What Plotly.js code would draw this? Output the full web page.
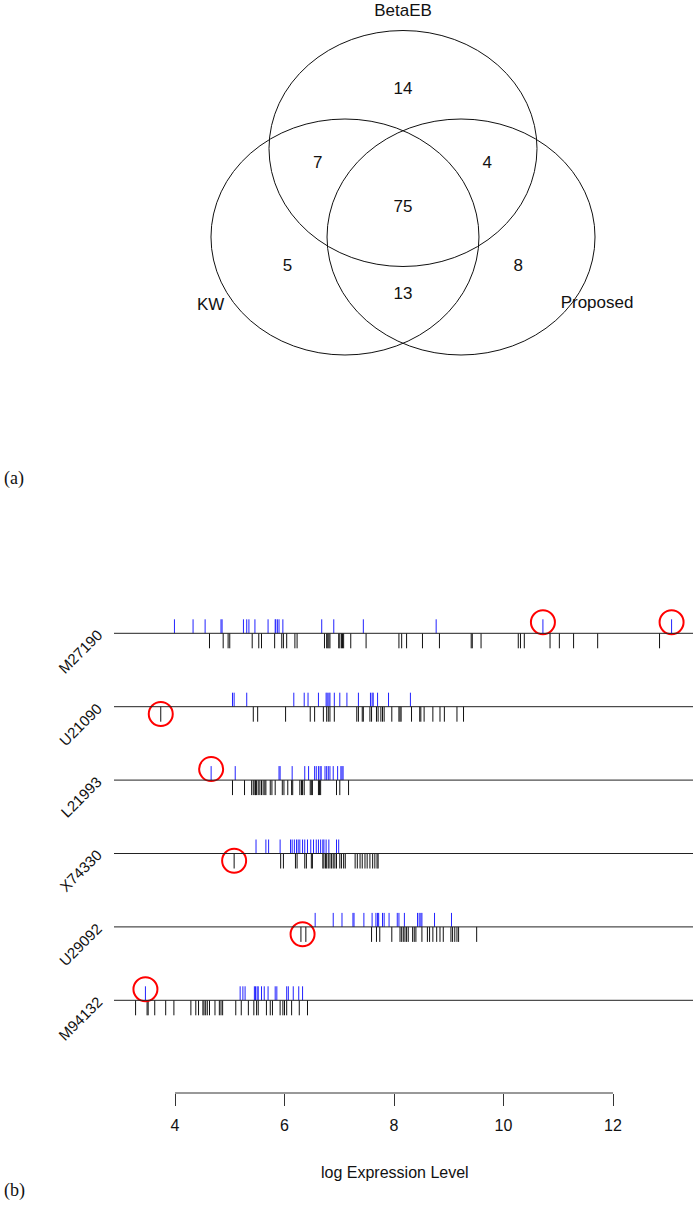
<!DOCTYPE html>
<html>
<head>
<meta charset="utf-8">
<script src="https://cdn.plot.ly/plotly-3.0.1.min.js"></script>
<style>html,body{margin:0;padding:0;background:#fff;}#chart{width:696px;height:1210px;}</style>
</head>
<body>
<div id="chart"></div>
<script>
// ---------------- DATA ----------------
const vennSets = ['BetaEB', 'KW', 'Proposed'];
const vennRegions = ['BetaEB only', 'BetaEB & KW', 'BetaEB & Proposed', 'All three', 'KW only', 'Proposed only', 'KW & Proposed'];
const vennCounts = [14, 7, 4, 75, 5, 8, 13];

const genes = ['M27190', 'U21090', 'L21993', 'X74330', 'U29092', 'M94132'];
const xTicks = [4, 6, 8, 10, 12];
const xLabel = 'log Expression Level';

const blue_M27190 = [3.99, 4.33, 4.55, 4.84, 4.86, 5.25, 5.31, 5.35, 5.46, 5.70, 5.83, 5.84, 5.87, 5.90, 5.97, 6.68, 6.90, 7.44, 8.77, 10.72, 13.07];
const black_M27190 = [4.63, 4.88, 4.97, 5.00, 5.41, 5.53, 5.58, 5.82, 5.95, 5.98, 6.04, 6.19, 6.23, 6.73, 6.77, 6.79, 6.81, 6.83, 6.99, 7.01, 7.04, 7.06, 7.08, 7.21, 7.49, 8.09, 8.14, 8.23, 8.52, 8.83, 9.41, 9.43, 9.59, 10.27, 10.31, 10.38, 10.85, 11.02, 11.28, 11.72, 12.85];
const blue_U21090 = [5.05, 5.08, 5.31, 6.17, 6.36, 6.43, 6.62, 6.76, 6.78, 6.81, 6.83, 6.91, 7.01, 7.14, 7.35, 7.57, 7.60, 7.62, 7.70, 7.90, 8.30];
const black_U21090 = [3.74, 5.43, 5.51, 6.02, 6.47, 6.55, 6.71, 6.77, 6.80, 6.83, 6.91, 7.32, 7.35, 7.42, 7.44, 7.56, 7.59, 7.68, 7.71, 7.76, 7.79, 7.82, 7.96, 8.09, 8.11, 8.13, 8.32, 8.47, 8.49, 8.55, 8.71, 8.84, 8.92, 9.15, 9.27];
const blue_L21993 = [4.66, 5.10, 5.90, 5.92, 6.14, 6.37, 6.44, 6.55, 6.58, 6.62, 6.65, 6.67, 6.74, 6.77, 6.80, 6.83, 6.89, 6.97, 7.03, 7.05, 7.07];
const black_L21993 = [5.05, 5.27, 5.40, 5.43, 5.46, 5.47, 5.49, 5.52, 5.55, 5.58, 5.61, 5.64, 5.66, 5.74, 5.77, 5.83, 5.96, 5.99, 6.06, 6.13, 6.15, 6.28, 6.31, 6.33, 6.36, 6.47, 6.49, 6.51, 6.62, 6.64, 6.66, 6.95, 7.01, 7.17];
const blue_X74330 = [5.48, 5.66, 5.71, 5.92, 6.11, 6.14, 6.18, 6.22, 6.25, 6.28, 6.33, 6.37, 6.42, 6.48, 6.53, 6.58, 6.62, 6.66, 6.70, 6.72, 6.76, 6.81, 6.95, 6.99];
const black_X74330 = [5.08, 5.93, 5.98, 6.20, 6.23, 6.37, 6.40, 6.49, 6.51, 6.70, 6.72, 6.75, 6.77, 6.80, 6.83, 6.86, 6.89, 6.92, 6.95, 7.01, 7.04, 7.08, 7.11, 7.29, 7.33, 7.38, 7.42, 7.47, 7.51, 7.56, 7.61, 7.65, 7.69, 7.71];
const blue_U29092 = [6.56, 6.89, 7.05, 7.25, 7.27, 7.45, 7.60, 7.67, 7.70, 7.72, 7.79, 7.82, 7.91, 8.06, 8.09, 8.19, 8.43, 8.46, 8.49, 8.51, 8.74, 9.05];
const black_U29092 = [6.30, 6.39, 7.59, 7.68, 7.74, 7.96, 8.11, 8.14, 8.17, 8.20, 8.23, 8.26, 8.34, 8.37, 8.40, 8.51, 8.61, 8.65, 8.71, 8.78, 8.84, 8.90, 9.04, 9.07, 9.11, 9.15, 9.18, 9.51];
const blue_M94132 = [3.46, 5.19, 5.24, 5.28, 5.45, 5.47, 5.50, 5.52, 5.58, 5.63, 5.70, 5.83, 5.86, 6.04, 6.07, 6.16, 6.26, 6.33];
const black_M94132 = [3.28, 3.49, 3.51, 3.63, 3.83, 3.98, 4.29, 4.38, 4.43, 4.51, 4.53, 4.56, 4.59, 4.63, 4.73, 4.81, 4.84, 4.87, 5.11, 5.21, 5.34, 5.44, 5.49, 5.52, 5.67, 5.74, 5.78, 5.92, 5.97, 6.00, 6.04, 6.13, 6.27, 6.42];

const blueSets = [blue_M27190, blue_U21090, blue_L21993, blue_X74330, blue_U29092, blue_M94132];
const blackSets = [black_M27190, black_U21090, black_L21993, black_X74330, black_U29092, black_M94132];

const circledGene = ['M27190', 'M27190', 'U21090', 'L21993', 'X74330', 'U29092', 'M94132'];
const circledValue = [10.72, 13.07, 3.74, 4.66, 5.08, 6.33, 3.46];
const circledGroup = ['blue', 'blue', 'black', 'blue', 'black', 'black', 'blue'];

// ---------------- LAYOUT GEOMETRY ----------------
const W = 696, H = 1210;
const FONT = 'Liberation Sans, Arial, Helvetica, sans-serif';
const SERIF = 'Liberation Serif, DejaVu Serif, serif';

// Venn geometry (unit radius, centres on a triangle)
const vennCentres = [[0, 0.5], [-0.433, -0.25], [0.433, -0.25]];
const vennSetLabelPos = [[0, 1.657], [-1.435, -0.835], [1.448, -0.818]];
const vennRegionPos = [[0, 1.0], [-0.637, 0.369], [0.629, 0.369], [0, 0], [-0.863, -0.502], [0.86, -0.502], [0, -0.742]];
const vPxX = 134, vPxY = 118, vCx = 403, vCy = 207.5, vBottom = 500;

// Rug panel geometry
const pxPerUnit = 54.75, px4 = 175;
const plotL = 114, plotR = 693;
const rowTop = 633.3, rowStep = 73.4;
const axisY = 1093, panelTop = 590;
const xr0 = 4 + (plotL - px4) / pxPerUnit, xr1 = 4 + (plotR - px4) / pxPerUnit;
const yr0 = 1 + (panelTop - rowTop) / rowStep, yr1 = 1 + (axisY - rowTop) / rowStep;
const upLen = 14 / rowStep, downLen = 15 / rowStep;

// ---------------- TRACES ----------------
const traces = [];

function rugTrace(sets, dir, len, color) {
  const xs = [], ys = [];
  sets.forEach((vals, i) => {
    const k = i + 1;
    vals.forEach(v => { xs.push(v, v, null); ys.push(k, k + dir * len, null); });
  });
  return { type: 'scatter', mode: 'lines', x: xs, y: ys, xaxis: 'x', yaxis: 'y',
    line: { color: color, width: 1 }, hoverinfo: 'skip' };
}
traces.push(rugTrace(blueSets, -1, upLen, '#2222ff'));
traces.push(rugTrace(blackSets, 1, downLen, '#111111'));

traces.push({
  type: 'scatter', mode: 'markers', xaxis: 'x', yaxis: 'y',
  x: circledValue,
  y: circledGene.map((g, i) => genes.indexOf(g) + 1 + (circledGroup[i] === 'blue' ? -11 / rowStep : 7.3 / rowStep)),
  marker: { symbol: 'circle-open', size: 24, color: '#ff0000', line: { width: 2, color: '#ff0000' } },
  hoverinfo: 'skip'
});

// Venn region counts
traces.push({
  type: 'scatter', mode: 'text', xaxis: 'x2', yaxis: 'y2',
  x: vennRegionPos.map(p => p[0]), y: vennRegionPos.map(p => p[1]),
  text: vennCounts.map(String), textposition: 'middle center',
  textfont: { family: FONT, size: 17, color: '#111' }, hoverinfo: 'skip'
});
// Venn set labels
traces.push({
  type: 'scatter', mode: 'text', xaxis: 'x2', yaxis: 'y2',
  x: vennSetLabelPos.map(p => p[0]), y: vennSetLabelPos.map(p => p[1]),
  text: vennSets, textposition: 'middle center',
  textfont: { family: FONT, size: 17, color: '#111' }, hoverinfo: 'skip'
});

// ---------------- SHAPES ----------------
const shapes = [];
vennCentres.forEach(c => {
  shapes.push({ type: 'circle', xref: 'x2', yref: 'y2', x0: c[0] - 1, x1: c[0] + 1, y0: c[1] - 1, y1: c[1] + 1,
    line: { color: '#111', width: 1 }, fillcolor: 'rgba(0,0,0,0)' });
});
genes.forEach((g, i) => {
  shapes.push({ type: 'line', xref: 'x domain', yref: 'y', x0: 0, x1: 1, y0: i + 1, y1: i + 1,
    line: { color: '#222', width: 1 } });
});
shapes.push({ type: 'line', xref: 'x', yref: 'y domain', x0: xTicks[0], x1: xTicks[xTicks.length - 1], y0: 0, y1: 0,
  line: { color: '#333', width: 1 } });

// ---------------- ANNOTATIONS ----------------
const annotations = [];
genes.forEach((g, i) => {
  annotations.push({ text: g, xref: 'paper', yref: 'y', x: 108 / W, y: i + 1, xanchor: 'right', yanchor: 'top',
    yshift: 10, textangle: -45, showarrow: false, font: { family: FONT, size: 15, color: '#111' } });
});
annotations.push({ text: xLabel, xref: 'paper', yref: 'paper', x: 395 / W, y: 1 - 1172 / H,
  xanchor: 'center', yanchor: 'middle', showarrow: false, font: { family: FONT, size: 16, color: '#111' } });
annotations.push({ text: '(a)', xref: 'paper', yref: 'paper', x: 2 / W, y: 1 - 478 / H,
  xanchor: 'left', yanchor: 'middle', showarrow: false, font: { family: SERIF, size: 18, color: '#111' } });
annotations.push({ text: '(b)', xref: 'paper', yref: 'paper', x: 2 / W, y: 1 - 1190 / H,
  xanchor: 'left', yanchor: 'middle', showarrow: false, font: { family: SERIF, size: 18, color: '#111' } });

// ---------------- LAYOUT ----------------
const layout = {
  width: W, height: H,
  margin: { l: 0, r: 0, t: 0, b: 0, pad: 0 },
  paper_bgcolor: '#fff', plot_bgcolor: 'rgba(0,0,0,0)',
  showlegend: false,
  font: { family: FONT, color: '#111' },
  xaxis: {
    domain: [plotL / W, plotR / W], range: [xr0, xr1], anchor: 'y',
    showgrid: false, zeroline: false, showline: false,
    ticks: 'outside', ticklen: 12, tickwidth: 1, tickcolor: '#333',
    tickmode: 'array', tickvals: xTicks, ticktext: xTicks.map(String),
    tickfont: { family: FONT, size: 16, color: '#111' }, ticklabelstandoff: 6,
    fixedrange: true
  },
  yaxis: {
    domain: [1 - axisY / H, 1 - panelTop / H], range: [yr1, yr0], anchor: 'x',
    visible: false, fixedrange: true
  },
  xaxis2: {
    domain: [0, 1], range: [(0 - vCx) / vPxX, (W - vCx) / vPxX], anchor: 'y2',
    visible: false, fixedrange: true
  },
  yaxis2: {
    domain: [1 - vBottom / H, 1], range: [(vCy - vBottom) / vPxY, vCy / vPxY], anchor: 'x2',
    visible: false, fixedrange: true
  },
  shapes: shapes,
  annotations: annotations
};

Plotly.newPlot('chart', traces, layout, { staticPlot: true, displayModeBar: false });
</script>
</body>
</html>
